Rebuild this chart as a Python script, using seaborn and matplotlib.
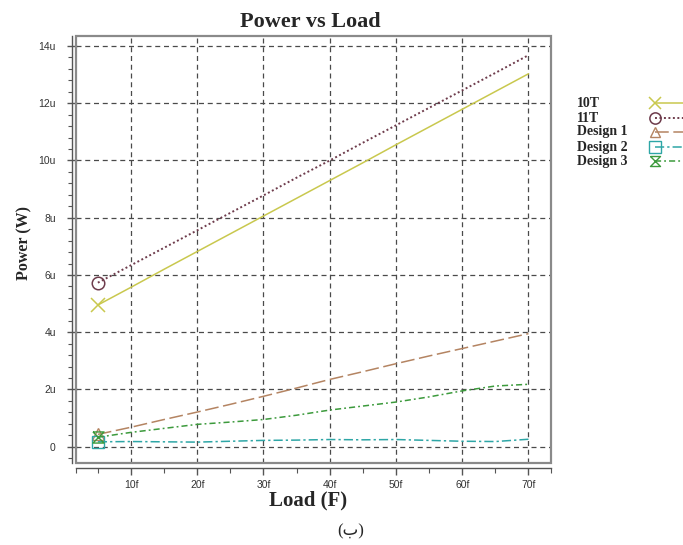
import matplotlib
matplotlib.use("Agg")
import matplotlib.pyplot as plt
import seaborn as sns
import numpy as np
from matplotlib.lines import Line2D
from matplotlib.patches import Rectangle
from matplotlib.ticker import MultipleLocator, FixedLocator

sns.set_theme(style="white")
plt.rcParams['font.family'] = ['Liberation Serif', 'DejaVu Sans']

# ---- data (load in fF, power in uW) ----
load = [5, 10, 15, 20, 25, 30, 35, 40, 45, 50, 55, 60, 65, 70]
p_10t = [4.95, 5.57, 6.20, 6.82, 7.44, 8.06, 8.68, 9.30, 9.92, 10.55, 11.17, 11.79, 12.41, 13.03]
p_11t = [5.73, 6.34, 6.95, 7.56, 8.17, 8.78, 9.40, 10.00, 10.62, 11.23, 11.84, 12.45, 13.06, 13.68]
p_d1 = [0.43, 0.68, 0.95, 1.21, 1.48, 1.76, 2.05, 2.35, 2.62, 2.90, 3.17, 3.43, 3.69, 3.95]
p_d2 = [0.17, 0.18, 0.17, 0.16, 0.19, 0.22, 0.23, 0.25, 0.24, 0.25, 0.22, 0.19, 0.18, 0.26]
p_d3 = [0.33, 0.50, 0.64, 0.78, 0.86, 0.95, 1.10, 1.28, 1.42, 1.56, 1.74, 1.95, 2.12, 2.18]

labels = ["10T", "11T", "Design 1", "Design 2", "Design 3"]
series = [p_10t, p_11t, p_d1, p_d2, p_d3]
xticks = [10, 20, 30, 40, 50, 60, 70]
xtick_labels = ["10f", "20f", "30f", "40f", "50f", "60f", "70f"]
yticks = [0, 2, 4, 6, 8, 10, 12, 14]
ytick_labels = ["0", "2u", "4u", "6u", "8u", "10u", "12u", "14u"]

hourglass = [(-1, 1), (1, 1), (-1, -1), (1, -1), (-1, 1)]
styles = [
    dict(color="#c9c84e", ls="-", lw=1.1, marker="x", ms=10, mew=1.1),
    dict(color="#6e3c4c", ls=(0, (1, 1.3)), lw=1.4, marker="o", ms=9, mew=1.1),
    dict(color="#b48462", ls=(0, (9, 3)), lw=1.1, marker="^", ms=8, mew=1.0),
    dict(color="#2ea6a6", ls=(0, (6, 2, 1.5, 2)), lw=1.1, marker="s", ms=9, mew=1.0),
    dict(color="#3c9a3c", ls=(0, (4, 2, 1.2, 2)), lw=1.1, marker=hourglass, ms=8, mew=1.0),
]

W, H = 683, 545
fig = plt.figure(figsize=(W / 100, H / 100), dpi=100)
L, R, T, B = 76, 551, 36, 463
ax = fig.add_axes([L / W, 1 - B / H, (R - L) / W, (B - T) / H])

for vals, st in zip(series, styles):
    sns.lineplot(x=load, y=vals, ax=ax, color=st["color"], linestyle=st["ls"],
                 linewidth=st["lw"], legend=False)
    ln = ax.lines[-1]
    ln.set_marker(st["marker"])
    ln.set_markevery([0])
    ln.set_markersize(st["ms"])
    ln.set_markerfacecolor("none")
    ln.set_markeredgecolor(st["color"])
    ln.set_markeredgewidth(st["mew"])

ax.set_xlim(1.7, 73.4)
ax.set_ylim(-0.57, 14.35)

ax.xaxis.set_major_locator(FixedLocator(xticks))
ax.set_xticklabels(xtick_labels)
ax.xaxis.set_minor_locator(FixedLocator([1.75, 5, 15, 25, 35, 45, 55, 65, 73.35]))
ax.yaxis.set_major_locator(FixedLocator(yticks))
ax.set_yticklabels(ytick_labels)
ax.yaxis.set_minor_locator(MultipleLocator(0.4))

ax.grid(True, which="major", color="#4a4a4a", linestyle=(0, (4, 3)), linewidth=0.9)

for s in ["top", "right"]:
    ax.spines[s].set_visible(False)
ax.spines["left"].set_position(("outward", 3))
ax.spines["bottom"].set_position(("outward", 3.6))
for s in ["left", "bottom"]:
    ax.spines[s].set_color("#555555")
    ax.spines[s].set_linewidth(1.0)

ax.add_patch(Rectangle((0, 0), 1, 1, transform=ax.transAxes, fill=False,
                       edgecolor="#8a8a8a", linewidth=1.6, clip_on=False, zorder=5))

ax.tick_params(axis="both", which="major", labelsize=7.5, labelcolor="#333333",
               labelfontfamily="Liberation Sans")
ax.tick_params(axis="y", which="major", direction="inout", length=7, width=1,
               color="#555555", pad=8, left=True)
ax.tick_params(axis="y", which="minor", direction="out", length=3, width=0.8,
               color="#555555", left=True)
ax.tick_params(axis="x", which="major", direction="out", length=5, width=1,
               color="#555555", pad=3.5, bottom=True)
ax.tick_params(axis="x", which="minor", direction="out", length=3.5, width=0.8,
               color="#555555", bottom=True)

ax.set_xlabel("Load (F)", fontsize=15, fontweight="bold")
ax.xaxis.set_label_coords((308 - L) / (R - L), (B - 500) / (B - T), transform=ax.transAxes)
ax.xaxis.label.set_va("center")
ax.set_ylabel("Power (W)", fontsize=11.5, fontweight="bold")
ax.yaxis.set_label_coords((24 - L) / (R - L), (B - 243) / (B - T), transform=ax.transAxes)
ax.yaxis.label.set_va("center")
fig.text(310 / W, 1 - 22 / H, "Power vs Load", fontsize=16, fontweight="bold",
         ha="center", va="center")

# legend (text left, marker + line to the right)
leg_y = [103, 118, 132, 147, 161]
for lab, st, yp in zip(labels, styles, leg_y):
    yf = 1 - yp / H
    fig.text(577 / W, yf, lab, fontsize=10, fontweight="bold", va="center", ha="left")
    ln = Line2D([655 / W, 700 / W], [yf, yf], transform=fig.transFigure,
                color=st["color"], linestyle=st["ls"], linewidth=st["lw"],
                marker=st["marker"], markevery=[0], markersize=st["ms"] * 0.9,
                markerfacecolor="none", markeredgecolor=st["color"],
                markeredgewidth=st["mew"])
    fig.add_artist(ln)

fig.text(351 / W, 1 - 531 / H, "(ب)", fontsize=12, ha="center", va="center",
         family=["Liberation Serif", "DejaVu Sans"])

fig.savefig("out.png", dpi=100)
